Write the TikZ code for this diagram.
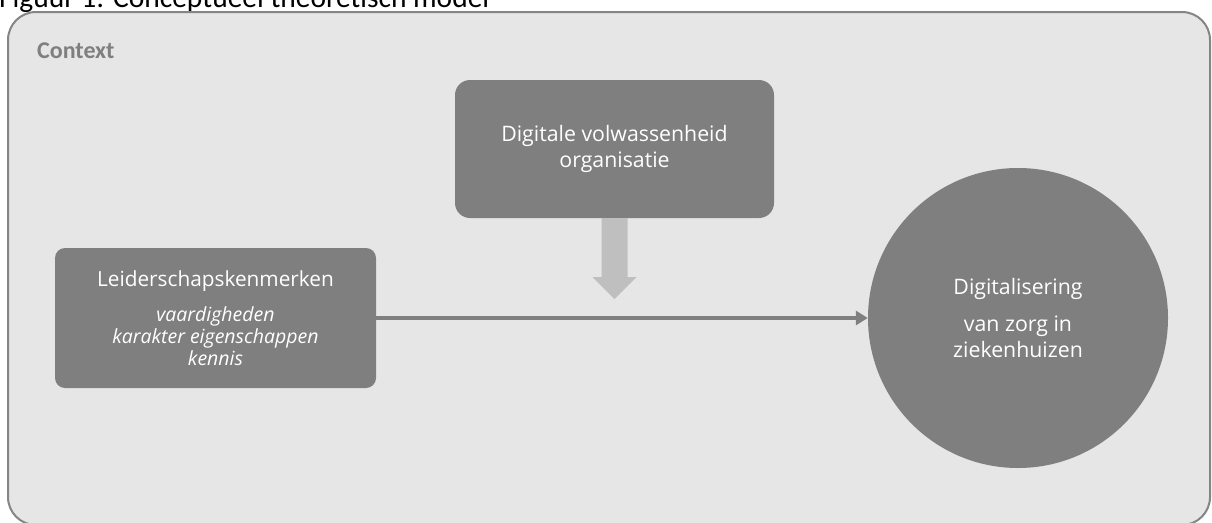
\documentclass[tikz,border=0pt]{standalone}
\usepackage{fontspec}
\setmainfont{Carlito}
\newfontfamily\boxfont{Open Sans}
\usetikzlibrary{calc,arrows.meta}
\definecolor{boxgray}{HTML}{7F7F7F}
\definecolor{ctxfill}{HTML}{E6E6E6}
\definecolor{ctxline}{HTML}{858585}
\definecolor{blockgray}{HTML}{BFBFBF}
\begin{document}
\begin{tikzpicture}[x=1pt,y=-1pt,
  darkbox/.style={fill=boxgray, draw=none, text=white, align=center, inner sep=0pt},
  mainfont/.style={font=\boxfont\fontsize{21.3}{26}\selectfont},
  flow/.style={draw=boxgray, line width=3.5pt, -{Triangle[length=12pt,width=14pt]}}]
\useasboundingbox (0,0) rectangle (1212,522);
\fill[white] (0,0) rectangle (1212,522);

% caption line above the panel
\node[anchor=base west, inner sep=0pt, font=\fontsize{29.5}{32}\selectfont] (caption) at (-1,7)
  {Figuur 1: Conceptueel theoretisch model};

% context panel
\draw[ctxline, line width=2pt, fill=ctxfill, rounded corners=28pt] (8,12) rectangle (1210,525);
\node[anchor=base west, inner sep=0pt, text=boxgray, font=\fontsize{24}{26}\selectfont\bfseries] (context) at (37,58) {Context};

% maturity box
\node[darkbox, mainfont, rounded corners=15pt, minimum width=319pt, minimum height=138pt] (mature) at (614.5,149)
  {Digitale volwassenheid\\organisatie};

% leadership box
\node[darkbox, rounded corners=10pt, minimum width=321pt, minimum height=140pt] (lead) at (215.5,318)
  {\boxfont\fontsize{20.8}{22.5}\selectfont Leiderschapskenmerken\\[14pt]
   \boxfont\fontsize{19.5}{22.5}\selectfont\itshape vaardigheden\\[2pt]
   \boxfont\fontsize{19.5}{22.5}\selectfont\itshape karakter eigenschappen\\[1pt]
   \boxfont\fontsize{19.5}{22.5}\selectfont\itshape kennis};

% outcome circle
\node[darkbox, mainfont, circle, minimum size=300pt] (digi) at (1018,318)
  {Digitalisering\\[11pt]van zorg in\\ziekenhuizen};

% moderating block arrow
\coordinate (tip) at (614.5,299);
\fill[blockgray] ($(mature.south)+(-13,0)$) -- ($(mature.south)+(13,0)$) -- ($(mature.south)+(13,59)$)
  -- ($(mature.south)+(22,59)$) -- (tip) -- ($(mature.south)+(-22,59)$) -- ($(mature.south)+(-13,59)$) -- cycle;

% main relation
\draw[flow] (lead.east) -- (digi.west);
\end{tikzpicture}
\end{document}
